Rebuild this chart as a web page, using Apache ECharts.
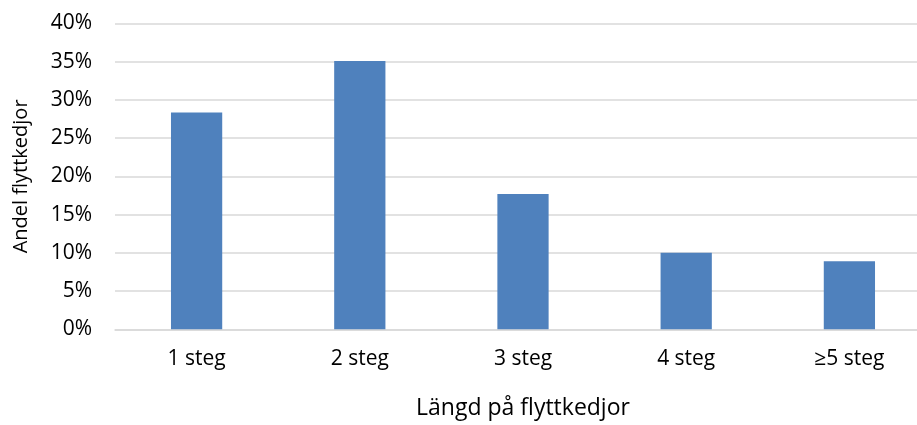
<!DOCTYPE html>
<html>
<head>
<meta charset="utf-8">
<script src="https://cdn.jsdelivr.net/npm/echarts@6/dist/echarts.min.js"></script>
<style>html,body{margin:0;padding:0;background:#fff}#c{width:917px;height:425px}</style>
</head>
<body>
<div id="c"></div>
<script>
const categories = ['1 steg', '2 steg', '3 steg', '4 steg', '≥5 steg'];
const values = [28.35, 35.1, 17.7, 10.0, 8.9];
const yTicks = [0, 5, 10, 15, 20, 25, 30, 35, 40];
const xTitle = 'Längd på flyttkedjor';
const yTitle = 'Andel flyttkedjor';

const FONT = 'Open Sans';
const chart = echarts.init(document.getElementById('c'), null, {renderer: 'canvas'});
chart.setOption({
  animation: false,
  textStyle: {fontFamily: FONT},
  grid: {left: 115, width: 816, top: 23.5, bottom: 95.7, containLabel: false, outerBoundsMode: 'none'},
  xAxis: {
    type: 'category',
    data: categories,
    name: xTitle,
    nameLocation: 'middle',
    nameGap: 68,
    nameTextStyle: {fontFamily: FONT, fontSize: 23, color: '#000'},
    axisLine: {show: true, lineStyle: {color: '#d9d9d9', width: 1.5}},
    axisTick: {show: false},
    axisLabel: {fontFamily: FONT, fontSize: 21, color: '#000', margin: 19}
  },
  yAxis: {
    type: 'value',
    min: yTicks[0],
    max: yTicks[yTicks.length - 1],
    interval: 5,
    name: yTitle,
    nameLocation: 'middle',
    nameGap: 84,
    nameTextStyle: {fontFamily: FONT, fontSize: 20, color: '#000'},
    axisLine: {show: false},
    axisTick: {show: false},
    axisLabel: {fontFamily: FONT, fontSize: 21, color: '#000', margin: 23, formatter: v => v + '%'},
    splitLine: {lineStyle: {color: '#d9d9d9', width: 1.5}}
  },
  series: [{
    type: 'bar',
    data: values,
    barWidth: '31.4%',
    itemStyle: {color: '#4f81bd'}
  }]
});
</script>
</body>
</html>
